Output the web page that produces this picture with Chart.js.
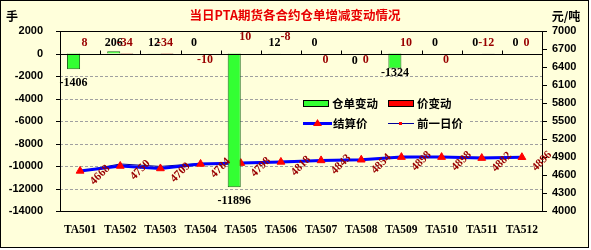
<!DOCTYPE html>
<html><head><meta charset="utf-8">
<script src="https://cdn.jsdelivr.net/npm/chart.js@4"></script>
<style>html,body{margin:0;padding:0;background:#fff;}</style>
</head><body>
<canvas id="c" width="591" height="250"></canvas>
<script>
const categories = ['TA501','TA502','TA503','TA504','TA505','TA506','TA507','TA508','TA509','TA510','TA511','TA512'];
const receiptChange = [-1406, 206, 12, 0, -11896, 12, 0, 0, -1324, 0, 0, 0];
const priceChange = [8, -34, -34, -10, 10, -8, 0, 0, 10, 0, -12, 0];
const settlePrice = [4668, 4750, 4709, 4784, 4798, 4818, 4843, 4854, 4898, 4898, 4882, 4896];
const prevPrice = [4660, 4784, 4743, 4794, 4788, 4826, 4843, 4854, 4888, 4898, 4894, 4896];
const leftTicks = [2000, 0, -2000, -4000, -6000, -8000, -10000, -12000, -14000];
const rightTicks = [7000, 6700, 6400, 6100, 5800, 5500, 5200, 4900, 4600, 4300, 4000];
const seriesNames = ['仓单变动', '价变动', '结算价', '前一日价'];
const titleText = '当日PTA期货各合约仓单增减变动情况';
const leftUnit = '手';
const rightUnit = '元/吨';

const BG = '#FFFFDB';
const SERIF = '"Liberation Serif", "DejaVu Serif", serif';
const SANS = '"Liberation Sans", Arial, sans-serif';
const CJK = '"Noto Sans CJK SC", sans-serif';
const DARKRED = '#990000';

const overlay = {
  id: 'overlay',
  beforeDraw(chart) {
    const c = chart.ctx;
    c.save();
    c.fillStyle = '#ffffff';
    c.fillRect(0, 0, chart.width, chart.height);
    c.fillStyle = BG;
    c.fillRect(1, 1, 587, 246);
    c.restore();
  },
  beforeDatasetsDraw(chart) {
    const c = chart.ctx, a = chart.chartArea, y = chart.scales.y;
    c.save();
    c.strokeStyle = '#A0A0A0';
    c.lineWidth = 1;
    c.setLineDash([3, 2]);
    leftTicks.forEach(v => {
      if (v === leftTicks[0] || v === 0 || v === leftTicks[leftTicks.length - 1]) return;
      const py = Math.round(y.getPixelForValue(v)) + 0.5;
      c.beginPath(); c.moveTo(a.left, py); c.lineTo(a.right, py); c.stroke();
    });
    c.restore();
  },
  afterDatasetsDraw(chart, args, opts) {
    const c = chart.ctx, a = chart.chartArea;
    const x = chart.scales.x, y = chart.scales.y, y1 = chart.scales.y1;
    c.save();
    c.strokeStyle = '#000';
    c.lineWidth = 1;
    c.strokeRect(Math.round(a.left) + 0.5, Math.round(a.top) + 0.5, Math.round(a.right - a.left), Math.round(a.bottom - a.top));
    const zy = Math.round(y.getPixelForValue(0)) + 0.5;
    c.beginPath(); c.moveTo(a.left, zy); c.lineTo(a.right, zy); c.stroke();
    const cw = x.getPixelForValue(1) - x.getPixelForValue(0);
    for (let i = 1; i < categories.length; i++) {
      const bx = Math.round(x.getPixelForValue(i) - cw / 2) + 0.5;
      c.beginPath(); c.moveTo(bx, zy); c.lineTo(bx, zy - 4); c.stroke();
    }
    leftTicks.forEach(v => {
      const py = Math.round(y.getPixelForValue(v)) + 0.5;
      c.beginPath(); c.moveTo(a.left - 4, py); c.lineTo(a.left, py); c.stroke();
    });
    rightTicks.forEach(v => {
      const py = Math.round(y1.getPixelForValue(v)) + 0.5;
      c.beginPath(); c.moveTo(a.right, py); c.lineTo(a.right + 5, py); c.stroke();
    });

    // legend
    c.fillStyle = BG;
    c.fillRect(298, 93, 170, 38);
    c.font = 'bold 11.5px ' + CJK;
    c.textBaseline = 'middle';
    c.textAlign = 'left';
    const d = chart.data.datasets;
    c.fillStyle = d[0].backgroundColor; c.fillRect(303.5, 100.5, 25, 6);
    c.strokeStyle = '#000'; c.strokeRect(303.5, 100.5, 25, 6);
    c.fillStyle = '#000'; c.fillText(seriesNames[0], 332, 104);
    c.fillStyle = d[1].backgroundColor; c.fillRect(388.5, 100.5, 25, 6);
    c.strokeStyle = '#000'; c.strokeRect(388.5, 100.5, 25, 6);
    c.fillStyle = '#000'; c.fillText(seriesNames[1], 417, 104);
    c.strokeStyle = d[2].borderColor; c.lineWidth = 3;
    c.beginPath(); c.moveTo(303, 123.5); c.lineTo(332, 123.5); c.stroke();
    c.fillStyle = '#FF0000';
    c.beginPath(); c.moveTo(317.5, 119); c.lineTo(322, 126); c.lineTo(313, 126); c.closePath(); c.fill();
    c.fillStyle = '#000'; c.fillText(seriesNames[2], 333, 124);
    c.strokeStyle = d[3].borderColor; c.lineWidth = 1;
    c.beginPath(); c.moveTo(388, 123.5); c.lineTo(414, 123.5); c.stroke();
    c.fillStyle = '#FF0000'; c.fillRect(399, 122, 3, 3);
    c.fillStyle = '#000'; c.fillText(seriesNames[3], 417, 124);

    // bar labels
    const m0 = chart.getDatasetMeta(0), m1 = chart.getDatasetMeta(1);
    c.font = 'bold 12px ' + SERIF;
    c.textAlign = 'center';
    const zeroY = y.getPixelForValue(0);
    receiptChange.forEach((v, i) => {
      const el = m0.data[i];
      let ly;
      const p = opts.blackPos[i];
      if (p === 'end') ly = el.y + 14;
      else if (p === 'endnear') ly = el.y + 5;
      else if (p === 'below') ly = zeroY + 7;
      else ly = zeroY - 11;
      c.fillStyle = '#000';
      c.fillText(String(v), el.x, ly);
    });
    priceChange.forEach((v, i) => {
      const el = m1.data[i];
      const p = opts.redPos[i];
      let ly;
      if (p === 'below') ly = zeroY + 6;
      else if (p === 'high') ly = zeroY - 17;
      else ly = zeroY - 11;
      c.fillStyle = DARKRED;
      c.fillText(String(v), el.x - 2, ly);
    });

    // settlement price labels
    const m2 = chart.getDatasetMeta(2);
    c.font = 'bold 11.5px ' + SERIF;
    c.fillStyle = DARKRED;
    settlePrice.forEach((v, i) => {
      const el = m2.data[i];
      c.save();
      c.translate(el.x + 20, el.y + 4);
      c.rotate(-Math.PI / 4);
      c.fillText(String(v), 0, 0);
      c.restore();
    });

    // titles
    c.textAlign = 'center';
    c.font = 'bold 12.5px ' + CJK;
    c.fillStyle = '#E80000';
    c.fillText(titleText, 295, 15);
    c.fillStyle = '#000';
    c.font = 'bold 12px ' + CJK;
    c.fillText(leftUnit, 12, 16);
    c.fillText(rightUnit, 566, 16);

    c.strokeStyle = '#000';
    c.lineWidth = 1;
    c.strokeRect(0.5, 0.5, 588, 247);
    c.restore();
  }
};

new Chart(document.getElementById('c'), {
  data: {
    labels: categories,
    datasets: [
      { type: 'bar', label: seriesNames[0], data: receiptChange, yAxisID: 'y',
        backgroundColor: '#33FF33', borderColor: '#1a6b1a', borderWidth: 1,
        categoryPercentage: 0.65, barPercentage: 1.0 },
      { type: 'bar', label: seriesNames[1], data: priceChange, yAxisID: 'y',
        backgroundColor: '#FF0000', borderColor: '#202020', borderWidth: 1,
        categoryPercentage: 0.65, barPercentage: 1.0 },
      { type: 'line', label: seriesNames[2], data: settlePrice, yAxisID: 'y1',
        borderColor: '#0000FF', borderWidth: 3, tension: 0,
        pointStyle: 'triangle', pointRadius: 4.5, pointBackgroundColor: '#FF0000', pointBorderColor: '#FF0000', pointBorderWidth: 1 },
      { type: 'line', label: seriesNames[3], data: prevPrice, yAxisID: 'y1',
        borderColor: '#000099', borderWidth: 1, tension: 0,
        pointStyle: 'rect', pointRadius: 1.5, pointBackgroundColor: '#FF0000', pointBorderColor: '#FF0000', pointBorderWidth: 0 }
    ]
  },
  options: {
    responsive: false,
    animation: false,
    devicePixelRatio: 1,
    layout: { padding: { top: 31, left: 0, right: 0, bottom: 0 }, autoPadding: false },
    plugins: {
      legend: { display: false },
      tooltip: { enabled: false },
      overlay: {
        blackPos: ['end', 'above', 'above', 'above', 'end', 'above', 'above', 'below', 'endnear', 'above', 'above', 'above'],
        redPos: ['above', 'above', 'above', 'below', 'high', 'high', 'below', 'below', 'above', 'below', 'above', 'above']
      }
    },
    scales: {
      x: {
        type: 'category', offset: true,
        grid: { display: false, drawTicks: false }, border: { display: false },
        ticks: { color: '#000', font: { family: SERIF, size: 11.5, weight: 'bold' }, padding: 12, maxRotation: 0, autoSkip: false },
        afterFit(s) { s.height = 39; }
      },
      y: {
        type: 'linear', position: 'left', min: -14000, max: 2000,
        afterBuildTicks(s) { s.ticks = leftTicks.map(v => ({ value: v })); },
        grid: { display: false, drawTicks: false }, border: { display: false },
        ticks: { color: '#000', font: { family: SANS, size: 11, weight: 'bold' }, padding: 17, callback: v => String(v) },
        afterFit(s) { s.width = 60; }
      },
      y1: {
        type: 'linear', position: 'right', min: 4000, max: 7000,
        afterBuildTicks(s) { s.ticks = rightTicks.map(v => ({ value: v })); },
        grid: { display: false, drawTicks: false }, border: { display: false },
        ticks: { color: '#000', font: { family: SANS, size: 11, weight: 'bold' }, padding: 10, callback: v => String(v) },
        afterFit(s) { s.width = 49; }
      }
    }
  },
  plugins: [overlay]
});
</script>
</body></html>
